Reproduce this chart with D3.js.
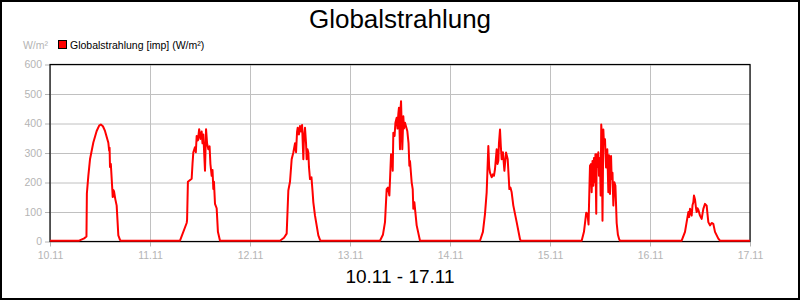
<!DOCTYPE html>
<html>
<head>
<meta charset="utf-8">
<script src="https://cdn.jsdelivr.net/npm/d3@7"></script>
<style>
  body { margin: 0; background: #fff; }
  svg { font-family: "Liberation Sans", Arial, sans-serif; display: block; }
</style>
</head>
<body>
<svg id="chart"></svg>
<script>
const dayLabels = ["10.11", "11.11", "12.11", "13.11", "14.11", "15.11", "16.11", "17.11"];
const yTicks = [0, 100, 200, 300, 400, 500, 600];

// [hour of day, W/m²]
const day1011 = [[0,0],[7.0,0],[8.2,8],[8.75,14],[8.85,160],[9.2,220],[9.6,276],[10.4,333],[11.2,372],[11.8,390],[12.2,394],[12.7,388],[13.2,372],[14.0,332],[14.2,305],[14.3,315],[14.4,250],[14.6,260],[14.95,175],[15.05,148],[15.2,172],[15.36,168],[15.67,141],[16.0,119],[16.4,18],[16.8,3],[17.0,0]];
const day1111 = [[0,0],[7.2,0],[8.8,60],[8.9,70],[9.1,200],[10.0,210],[10.2,260],[10.4,300],[10.8,317],[11.0,300],[11.2,355],[11.5,340],[11.8,378],[12.1,345],[12.4,370],[12.6,330],[12.8,360],[13.2,237],[13.45,378],[13.7,330],[14.0,310],[14.3,320],[14.5,260],[14.8,220],[15.0,240],[15.2,175],[15.35,200],[15.6,125],[16.0,110],[16.3,30],[16.8,0]];
const day1211 = [[0,0],[7.2,0],[8.16,10],[8.8,24],[9.2,170],[9.6,200],[10.0,276],[10.4,299],[10.8,330],[11.05,300],[11.3,370],[11.45,383],[11.75,360],[12.0,389],[12.25,370],[12.5,392],[12.8,276],[12.95,350],[13.2,383],[13.45,330],[13.6,276],[13.8,310],[14.0,299],[14.15,250],[14.4,209],[14.75,215],[15.0,170],[15.2,130],[15.6,85],[16.4,18],[16.8,3],[17.0,0]];
const day1311 = [[0,0],[7.2,0],[7.9,20],[8.4,63],[8.8,175],[9.1,180],[9.45,153],[9.85,293],[10.1,290],[10.25,237],[10.4,366],[10.7,355],[10.9,400],[11.2,417],[11.4,380],[11.6,430],[11.75,451],[12.0,310],[12.1,440],[12.25,473],[12.55,310],[12.8,422],[12.95,380],[13.2,400],[13.75,372],[14.05,330],[14.25,254],[14.4,270],[14.8,198],[15.05,175],[15.2,108],[15.45,130],[16.0,52],[16.8,0]];
const day1411 = [[0,0],[7.2,0],[7.9,30],[8.4,91],[8.8,164],[9.2,321],[9.4,250],[9.6,231],[10.0,215],[10.3,225],[10.55,220],[10.8,243],[11.2,310],[11.4,260],[11.6,271],[11.75,330],[12.0,377],[12.2,320],[12.4,276],[12.7,300],[13.05,237],[13.45,299],[13.85,276],[14.25,175],[14.5,180],[14.8,164],[15.2,119],[16.0,63],[16.8,5],[17.0,0]];
const day1511 = [[0,0],[7.6,0],[8.15,30],[8.7,95],[9.0,90],[9.25,55],[9.5,200],[9.6,254],[9.85,260],[10.0,164],[10.2,270],[10.4,186],[10.55,280],[10.8,198],[10.9,293],[11.1,91],[11.2,293],[11.4,250],[11.6,300],[11.75,220],[12.0,280],[12.15,153],[12.3,394],[12.4,370],[12.6,68],[12.8,377],[12.95,330],[13.2,344],[13.45,248],[13.75,310],[14.0,164],[14.15,290],[14.4,158],[14.65,287],[14.8,209],[15.0,230],[15.2,119],[15.45,198],[15.7,186],[16.0,60],[16.3,20],[16.6,5],[16.8,0]];
const day1611 = [[0,0],[7.6,0],[8.4,30],[9.2,97],[9.4,80],[9.6,108],[10.0,85],[10.2,120],[10.4,130],[10.55,153],[10.8,140],[11.05,110],[11.2,97],[11.4,110],[11.6,105],[12.0,85],[12.4,74],[12.8,108],[13.2,125],[13.6,119],[13.8,90],[14.0,63],[14.4,52],[14.8,60],[15.2,57],[15.6,30],[16.4,7],[16.8,0],[24,0]];

const days = [day1011, day1111, day1211, day1311, day1411, day1511, day1611];

const data = [];
days.forEach((pts, i) => {
  pts.forEach(p => data.push({ hours: i * 24 + p[0], value: p[1] }));
});

const width = 800;
const height = 300;
const plotLeft = 50, plotRight = 750, plotTop = 64.5, plotBottom = 241.5;

const svg = d3.select("#chart")
  .attr("width", width)
  .attr("height", height);

svg.append("rect")
  .attr("x", 1).attr("y", 1)
  .attr("width", width - 2).attr("height", height - 2)
  .attr("fill", "#fff")
  .attr("stroke", "#000")
  .attr("stroke-width", 2);

const xScale = d3.scaleLinear()
  .domain([0, (dayLabels.length - 1) * 24])
  .range([plotLeft, plotRight]);

const yScale = d3.scaleLinear()
  .domain([0, 600])
  .range([plotBottom, plotTop]);

const xTicks = dayLabels.map((d, i) => i * 24);

// grid
svg.append("g")
  .attr("transform", `translate(0, ${plotBottom})`)
  .call(d3.axisBottom(xScale).tickValues(xTicks).tickSize(-(plotBottom - plotTop)).tickFormat(""))
  .call(g => g.select(".domain").remove())
  .call(g => g.selectAll("line").attr("stroke", "#c0c0c0"));

svg.append("g")
  .attr("transform", `translate(${plotLeft}, 0)`)
  .call(d3.axisLeft(yScale).tickValues(yTicks).tickSize(-(plotRight - plotLeft)).tickFormat(""))
  .call(g => g.select(".domain").remove())
  .call(g => g.selectAll("line").attr("stroke", "#c0c0c0"));

// axes
const xAxis = svg.append("g")
  .attr("transform", `translate(0, ${plotBottom})`)
  .call(d3.axisBottom(xScale).tickValues(xTicks).tickSize(5).tickPadding(5)
    .tickFormat((d, i) => dayLabels[i]));

const yAxis = svg.append("g")
  .attr("transform", `translate(${plotLeft}, 0)`)
  .call(d3.axisLeft(yScale).tickValues(yTicks).tickSize(5).tickPadding(3));

[xAxis, yAxis].forEach(g => {
  g.select(".domain").remove();
  g.selectAll("line").attr("stroke", "#b4b4b4");
  g.selectAll("text")
    .attr("fill", "#b4b4b4")
    .style("font-size", "10.5px")
    .style("font-family", "'Liberation Sans', Arial, sans-serif");
});

svg.append("rect")
  .attr("x", plotLeft).attr("y", plotTop)
  .attr("width", plotRight - plotLeft).attr("height", plotBottom - plotTop)
  .attr("fill", "none")
  .attr("stroke", "#000")
  .attr("stroke-width", 1.2);

const line = d3.line()
  .x(d => xScale(d.hours))
  .y(d => yScale(d.value) - 0.8);

svg.append("path")
  .datum(data)
  .attr("fill", "none")
  .attr("stroke", "#ff0000")
  .attr("stroke-width", 2)
  .attr("stroke-linejoin", "round")
  .attr("d", line);

svg.append("text")
  .attr("x", 400).attr("y", 28)
  .attr("text-anchor", "middle")
  .style("font-size", "26px")
  .text("Globalstrahlung");

svg.append("text")
  .attr("x", 400).attr("y", 283)
  .attr("text-anchor", "middle")
  .style("font-size", "19px")
  .text("10.11 - 17.11");

svg.append("text")
  .attr("x", 48).attr("y", 48.5)
  .attr("text-anchor", "end")
  .attr("fill", "#b4b4b4")
  .style("font-size", "10.5px")
  .text("W/m²");

svg.append("rect")
  .attr("x", 58.5).attr("y", 40.5)
  .attr("width", 8).attr("height", 8)
  .attr("fill", "#ff0000")
  .attr("stroke", "#000")
  .attr("stroke-width", 1);

svg.append("text")
  .attr("x", 70).attr("y", 48.5)
  .style("font-size", "10.5px")
  .text("Globalstrahlung [imp] (W/m²)");
</script>
</body>
</html>
